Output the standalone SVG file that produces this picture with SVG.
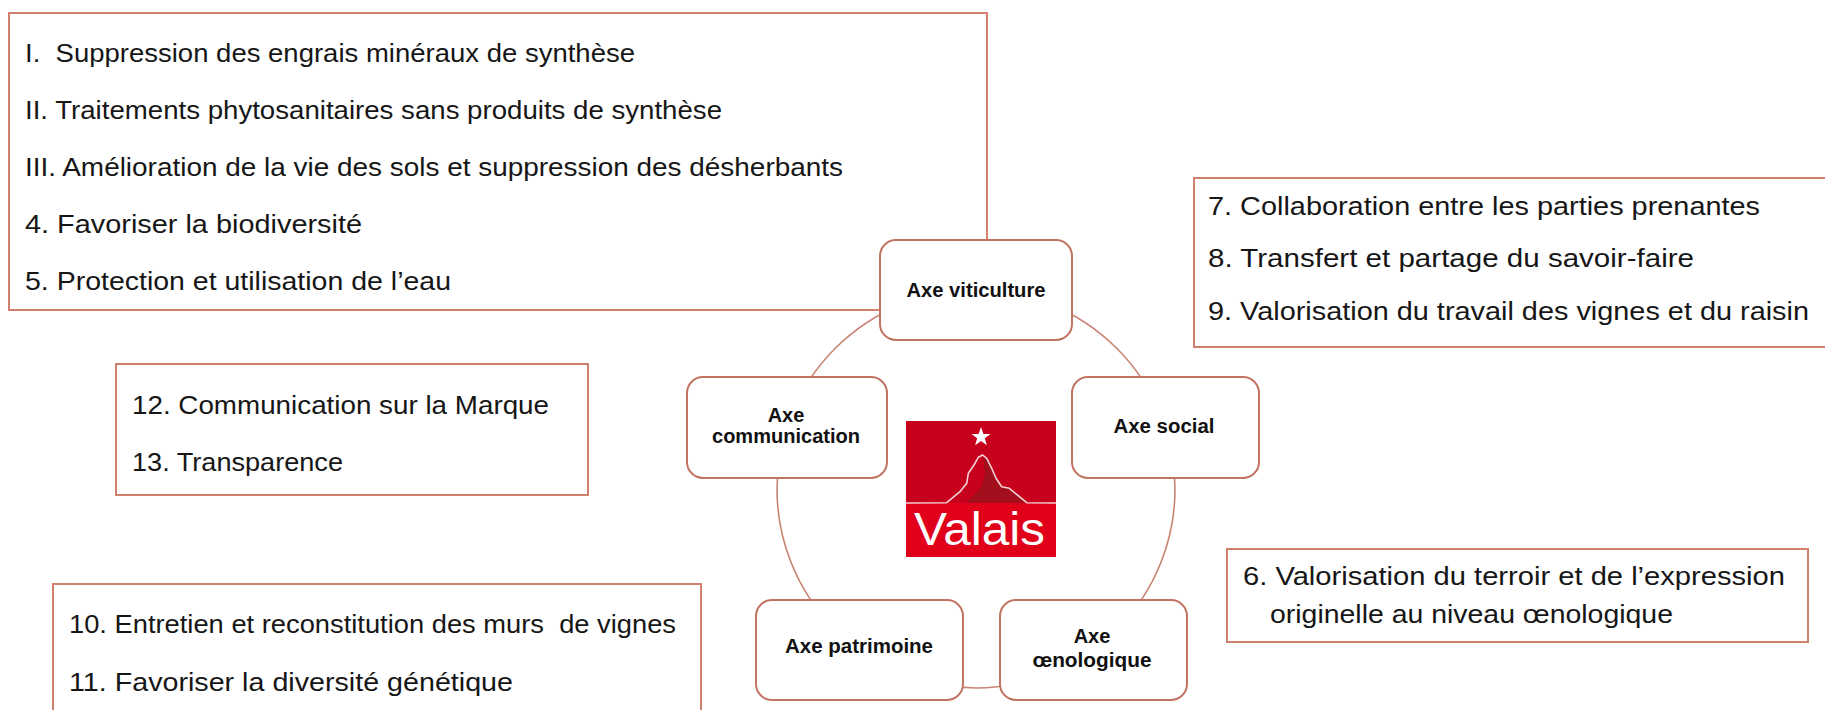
<svg xmlns="http://www.w3.org/2000/svg" width="1825" height="710" viewBox="0 0 1825 710">
<style>
.box{fill:#fff;stroke:#D0806C;stroke-width:2}
.node{fill:#fff;stroke:#C27462;stroke-width:2}
.ring{fill:none;stroke:#C98372;stroke-width:1.6}
.t{font-family:"Liberation Sans",Arial,sans-serif;font-size:26px;fill:#161616}
.n{font-family:"Liberation Sans",Arial,sans-serif;font-size:20px;font-weight:700;fill:#111;text-anchor:middle}
</style>
<rect width="1825" height="710" fill="#fff"/>

<g id="connectors">
  <circle class="ring" cx="976" cy="489" r="199"/>
</g>

<g id="box-viticulture-list">
  <rect class="box" x="9" y="13" width="978" height="297"/>
  <text class="t" xml:space="preserve" x="25" y="62" textLength="610" lengthAdjust="spacingAndGlyphs">I.  Suppression des engrais minéraux de synthèse</text>
  <text class="t" x="25" y="119" textLength="697" lengthAdjust="spacingAndGlyphs">II. Traitements phytosanitaires sans produits de synthèse</text>
  <text class="t" x="25" y="176" textLength="818" lengthAdjust="spacingAndGlyphs">III. Amélioration de la vie des sols et suppression des désherbants</text>
  <text class="t" x="25" y="233" textLength="337" lengthAdjust="spacingAndGlyphs">4. Favoriser la biodiversité</text>
  <text class="t" x="25" y="290" textLength="426" lengthAdjust="spacingAndGlyphs">5. Protection et utilisation de l’eau</text>
</g>

<g id="box-social-list">
  <rect class="box" x="1194" y="178" width="640" height="169"/>
  <text class="t" x="1208" y="215" textLength="552" lengthAdjust="spacingAndGlyphs">7. Collaboration entre les parties prenantes</text>
  <text class="t" x="1208" y="267" textLength="486" lengthAdjust="spacingAndGlyphs">8. Transfert et partage du savoir-faire</text>
  <text class="t" x="1208" y="320" textLength="601" lengthAdjust="spacingAndGlyphs">9. Valorisation du travail des vignes et du raisin</text>
</g>

<g id="box-communication-list">
  <rect class="box" x="116" y="364" width="472" height="131"/>
  <text class="t" x="132" y="414" textLength="417" lengthAdjust="spacingAndGlyphs">12. Communication sur la Marque</text>
  <text class="t" x="132" y="471" textLength="211" lengthAdjust="spacingAndGlyphs">13. Transparence</text>
</g>

<g id="box-oenologique-list">
  <rect class="box" x="1227" y="549" width="581" height="93"/>
  <text class="t" x="1243" y="585" textLength="542" lengthAdjust="spacingAndGlyphs">6. Valorisation du terroir et de l’expression</text>
  <text class="t" x="1270" y="623" textLength="403" lengthAdjust="spacingAndGlyphs">originelle au niveau œnologique</text>
</g>

<g id="box-patrimoine-list">
  <rect class="box" x="53" y="584" width="648" height="140"/>
  <text class="t" xml:space="preserve" x="69" y="633" textLength="607" lengthAdjust="spacingAndGlyphs">10. Entretien et reconstitution des murs  de vignes</text>
  <text class="t" x="69" y="691" textLength="444" lengthAdjust="spacingAndGlyphs">11. Favoriser la diversité génétique</text>
</g>

<g id="node-viticulture">
  <rect class="node" x="880" y="240" width="192" height="100" rx="16"/>
  <text class="n" x="976" y="297" textLength="139" lengthAdjust="spacingAndGlyphs">Axe viticulture</text>
</g>

<g id="node-communication">
  <rect class="node" x="687" y="377" width="200" height="101" rx="16"/>
  <text class="n" x="786" y="422">Axe</text>
  <text class="n" x="786" y="443" textLength="148" lengthAdjust="spacingAndGlyphs">communication</text>
</g>

<g id="node-social">
  <rect class="node" x="1072" y="377" width="187" height="101" rx="16"/>
  <text class="n" x="1164" y="433" textLength="101" lengthAdjust="spacingAndGlyphs">Axe social</text>
</g>

<g id="node-patrimoine">
  <rect class="node" x="756" y="600" width="207" height="100" rx="16"/>
  <text class="n" x="859" y="653" textLength="148" lengthAdjust="spacingAndGlyphs">Axe patrimoine</text>
</g>

<g id="node-oenologique">
  <rect class="node" x="1000" y="600" width="187" height="100" rx="16"/>
  <text class="n" x="1092" y="643">Axe</text>
  <text class="n" x="1092" y="667" textLength="119" lengthAdjust="spacingAndGlyphs">œnologique</text>
</g>

<g id="logo-valais">
  <rect x="906" y="421" width="150" height="82" fill="#C6001D"/>
  <rect x="906" y="503" width="150" height="54" fill="#E1001A"/>
  <polygon points="966.7,502.7 981.7,486.7 985,473.3 983.3,457.3 986.7,458.3 991.7,468.3 996,478.3 1001.7,486.7 1009.3,488.3 1026.7,502.7" fill="#A10E1C"/>
  <polyline points="906,503 946.7,502.7 960,491.7 966.7,483.3 968.3,473.3 974,465 978.3,457.3 982.7,455 986.7,458.3 991.7,468.3 996,478.3 1001.7,486.7 1009.3,488.3 1026.7,502.7 1056,503" fill="none" stroke="#F4D0D2" stroke-width="1.6" stroke-linejoin="round"/>
  <polygon points="981,427 983.4,434 990.5,434 984.8,438.3 986.9,445.2 981,441 975.1,445.2 977.2,438.3 971.5,434 978.6,434" fill="#fff"/>
  <text x="914" y="545" textLength="131" lengthAdjust="spacingAndGlyphs" font-family="'Liberation Sans',Arial,sans-serif" font-size="46" fill="#fff">Valais</text>
</g>
</svg>
